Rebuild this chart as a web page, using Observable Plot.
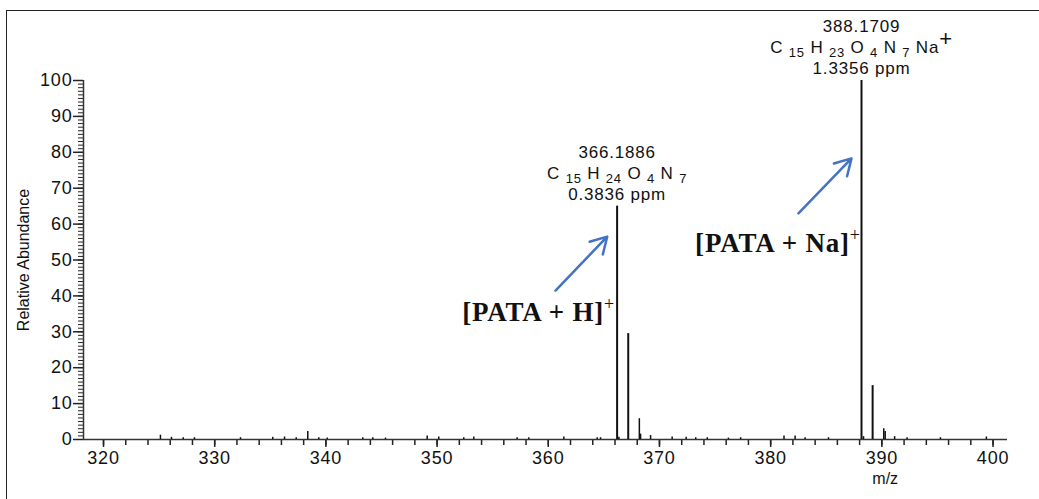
<!DOCTYPE html>
<html>
<head>
<meta charset="utf-8">
<script src="https://cdn.jsdelivr.net/npm/d3@7"></script>
<script src="https://cdn.jsdelivr.net/npm/@observablehq/plot@0.6"></script>
<style>
  html, body { margin: 0; padding: 0; background: #fff; }
  #wrap { position: relative; width: 1039px; height: 499px; overflow: hidden; }
  #border { position: absolute; left: 6px; top: 10px; right: -5px; bottom: -5px;
            border-left: 1.5px solid #222; border-top: 1.5px solid #222; pointer-events: none; }
  svg text { letter-spacing: 0.8px; }
  svg text.plain { letter-spacing: 0; }
</style>
</head>
<body>
<div id="wrap"><div id="chart"></div><div id="border"></div></div>
<script>
// ---- data ----
const peakMz = [325.12, 326.11, 327.17, 328.18, 332.32, 335.22, 336.28, 337.33, 338.37, 339.36,
  340.12, 343.32, 344.22, 345.36, 349.11, 350.15, 352.4, 353.3, 357.2, 358.25,
  361.4, 364.4, 364.7, 366.19, 366.35, 367.19, 368.19, 368.3, 369.2, 371.14,
  372.4, 373.26, 374.3, 376.2, 377.3, 381.2, 382.2, 383.1, 385.2, 388.17,
  388.35, 389.17, 390.17, 390.3, 391.15, 392.27, 395.27, 399.4];
const peakAbundance = [1.2, 0.6, 0.5, 0.5, 0.5, 0.6, 0.7, 0.5, 2.2, 0.5,
  0.4, 0.5, 0.5, 0.4, 1.0, 0.7, 0.5, 0.7, 0.5, 0.5,
  0.7, 0.5, 0.5, 65, 0.6, 29.5, 5.8, 1.5, 1.1, 0.7,
  0.6, 0.5, 0.5, 0.4, 0.5, 1.0, 1.0, 0.5, 0.5, 100,
  0.8, 15, 3.0, 2.2, 0.8, 0.5, 0.5, 0.7];

const xMajorTicks = [320, 330, 340, 350, 360, 370, 380, 390, 400];
const xMinorTicks = d3.range(320, 401, 2);
const yMajorTicks = [0, 10, 20, 30, 40, 50, 60, 70, 80, 90, 100];
const yMinorTicks = d3.range(0, 101, 1);

const annotMz = [366.19, 388.17];
const annotTop = [65, 100];
const annotMass = ["366.1886", "388.1709"];
const annotFormula = ["C _15 H _24 O _4 N _7", "C _15 H _23 O _4 N _7 Na^+"];
const annotPpm = ["0.3836 ppm", "1.3356 ppm"];

const ionLabels = ["[PATA + H]^+", "[PATA + Na]^+"];
const ionLabelMz = [366.0, 388.1];
const ionLabelAb = [35.4, 54.6];

const arrowFromMz = [360.65, 382.5];
const arrowFromAb = [41.5, 63];
const arrowToMz = [365.3, 387.27];
const arrowToAb = [56.5, 78.3];

// ---- tables ----
const peaks = peakMz.map((mz, i) => ({mz, ab: peakAbundance[i]}));
const annots = annotMz.map((mz, i) => ({mz, ab: annotTop[i], mass: annotMass[i], formula: annotFormula[i], ppm: annotPpm[i]}));
const ions = ionLabels.map((t, i) => ({t, mz: ionLabelMz[i], ab: ionLabelAb[i]}));
const arrows = arrowFromMz.map((x1, i) => ({x1, y1: arrowFromAb[i], x2: arrowToMz[i], y2: arrowToAb[i]}));

const X0 = 318.2, X1 = 401.3;

const chart = Plot.plot({
  width: 1039,
  height: 499,
  marginLeft: 83,
  marginRight: 32,
  marginTop: 80,
  marginBottom: 60,
  style: {fontFamily: "'Liberation Sans', Arial, sans-serif", fontSize: "18px", color: "#111", background: "transparent"},
  x: {domain: [X0, X1], axis: null},
  y: {domain: [0, 100], axis: null},
  marks: [
    // minor & major ticks
    Plot.axisX(xMinorTicks, {anchor: "bottom", tickSize: 6, tickFormat: () => "", stroke: "#222", strokeWidth: 1.5}),
    Plot.axisX(xMajorTicks, {anchor: "bottom", tickSize: 8, tickPadding: 4, fontSize: 18, label: null, stroke: "#222", strokeWidth: 1.5, fill: "#111"}),
    Plot.axisY(yMinorTicks, {anchor: "left", tickSize: 5, tickFormat: () => "", stroke: "#222", strokeWidth: 1}),
    Plot.axisY(yMajorTicks, {anchor: "left", tickSize: 10, tickPadding: 1, fontSize: 18, label: null, stroke: "#222", strokeWidth: 1.5, fill: "#111"}),
    // axis lines
    Plot.ruleY([0], {x1: X0, x2: X1, stroke: "#333", strokeWidth: 1.5}),
    Plot.ruleX([X0], {y1: 0, y2: 100, stroke: "#333", strokeWidth: 1.5}),
    // peaks
    Plot.ruleX(peaks, {x: "mz", y1: 0, y2: "ab", stroke: "#111", strokeWidth: d => d.ab > 10 ? 2 : 1.5}),
    // peak annotations
    Plot.text(annots, {x: "mz", y: "ab", text: "ppm", dy: -12, fontSize: 17, fill: "#111"}),
    Plot.text(annots, {x: "mz", y: "ab", text: "formula", dy: -33, fontSize: 17, fill: "#111"}),
    Plot.text(annots, {x: "mz", y: "ab", text: "mass", dy: -54, fontSize: 17, fill: "#111"}),
    // arrows
    Plot.arrow(arrows, {x1: "x1", y1: "y1", x2: "x2", y2: "y2", stroke: "#4472c4", strokeWidth: 2.5, headLength: 11}),
    // ion labels
    Plot.text(ions, {x: "mz", y: "ab", text: "t", textAnchor: "end", fontSize: 27, fontWeight: "bold",
      fontFamily: "'Liberation Serif', 'Times New Roman', serif", fill: "#111"}),
    // axis titles
    Plot.text(["m/z"], {frameAnchor: "bottom", x: [390.3], dy: 44, fontSize: 16, fill: "#111"}),
    Plot.text(["Relative Abundance"], {frameAnchor: "left", textAnchor: "middle", rotate: -90, dx: -60, fontSize: 16, fill: "#111"})
  ]
});

// rich text: subscripts (_n) and superscripts (^+)
d3.select(chart).selectAll("text").each(function() {
  const t = this.textContent;
  if (t === "Relative Abundance" || t === "m/z") { d3.select(this).attr("class", "plain"); return; }
  if (!/[_^]/.test(t)) return;
  const sel = d3.select(this);
  const isSerif = /PATA/.test(t);
  sel.text(null);
  const tokens = t.match(/(_\d+|\^\+|[^_^]+)/g);
  let shift = 0;
  for (const tok of tokens) {
    if (tok[0] === "_") {
      sel.append("tspan").attr("font-size", "13px").attr("dy", 4 - shift).text(tok.slice(1));
      shift = 4;
    } else if (tok[0] === "^") {
      const up = isSerif ? -11 : -7;
      sel.append("tspan").attr("font-size", isSerif ? "18px" : "22px")
        .attr("font-weight", "normal")
        .attr("dy", up - shift).text("+");
      shift = up;
    } else {
      const ts = sel.append("tspan").text(tok);
      if (shift !== 0) ts.attr("dy", -shift);
      shift = 0;
    }
  }
});

document.getElementById("chart").appendChild(chart);
</script>
</body>
</html>
